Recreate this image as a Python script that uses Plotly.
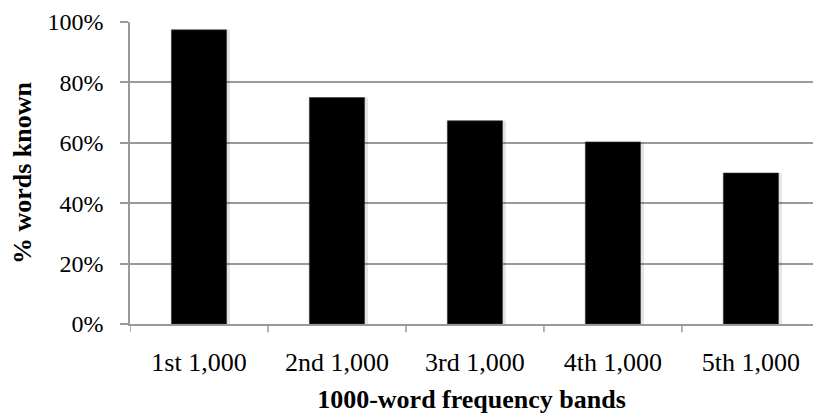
import plotly.graph_objects as go

# Vocabulary knowledge by 1000-word frequency band
bands = ["1st 1,000", "2nd 1,000", "3rd 1,000", "4th 1,000", "5th 1,000"]
pct_known = [97.4, 75.0, 67.3, 60.3, 50.0]
y_ticks = [0, 20, 40, 60, 80, 100]
y_tick_labels = ["0%", "20%", "40%", "60%", "80%", "100%"]

serif = "Liberation Serif, Times New Roman, serif"
grid = "#9a9a9a"

fig = go.Figure()

# soft drop shadow to the right of each bar
fig.add_trace(go.Bar(
    x=list(range(len(bands))), y=pct_known, width=0.42, offset=-0.195,
    marker=dict(color="rgba(0,0,0,0.10)", line_width=0),
    hoverinfo="skip", showlegend=False,
))
fig.add_trace(go.Bar(
    x=list(range(len(bands))), y=pct_known, width=0.40, offset=-0.20,
    marker=dict(color="#000000", line=dict(color="#3a3a3a", width=0.6)),
    showlegend=False,
))

fig.update_layout(
    width=813, height=415,
    margin=dict(l=130, r=0, t=22, b=91),
    plot_bgcolor="white", paper_bgcolor="white",
    barmode="overlay",
    font=dict(family=serif, color="black", size=24),
    xaxis=dict(
        range=[-0.5, 4.45],
        tickmode="array", tickvals=list(range(len(bands))), ticktext=bands,
        showgrid=False, zeroline=False,
        showline=True, linecolor=grid, linewidth=1.5,
        ticks="", tickfont=dict(size=26, family=serif),
        ticklabelstandoff=14,
        title=dict(text="<b>1000-word frequency bands</b>",
                   font=dict(size=26, family=serif), standoff=14),
    ),
    yaxis=dict(
        range=[0, 100],
        tickmode="array", tickvals=y_ticks, ticktext=y_tick_labels,
        showgrid=True, gridcolor=grid, gridwidth=1.5,
        zeroline=False,
        showline=True, linecolor=grid, linewidth=1.5,
        ticks="outside", ticklen=8, tickcolor=grid, tickwidth=1.5,
        tickfont=dict(size=24, family=serif),
        ticklabelstandoff=12,
        title=dict(text="<b>% words known</b>",
                   font=dict(size=26, family=serif), standoff=8),
    ),
)

# category boundary tick marks below the x axis
for b in [k - 0.5 for k in range(len(bands))]:
    fig.add_shape(type="line", xref="x", yref="paper",
                  x0=b, x1=b, y0=0, y1=-0.027,
                  line=dict(color=grid, width=1.5))

fig.write_html("out.html")
